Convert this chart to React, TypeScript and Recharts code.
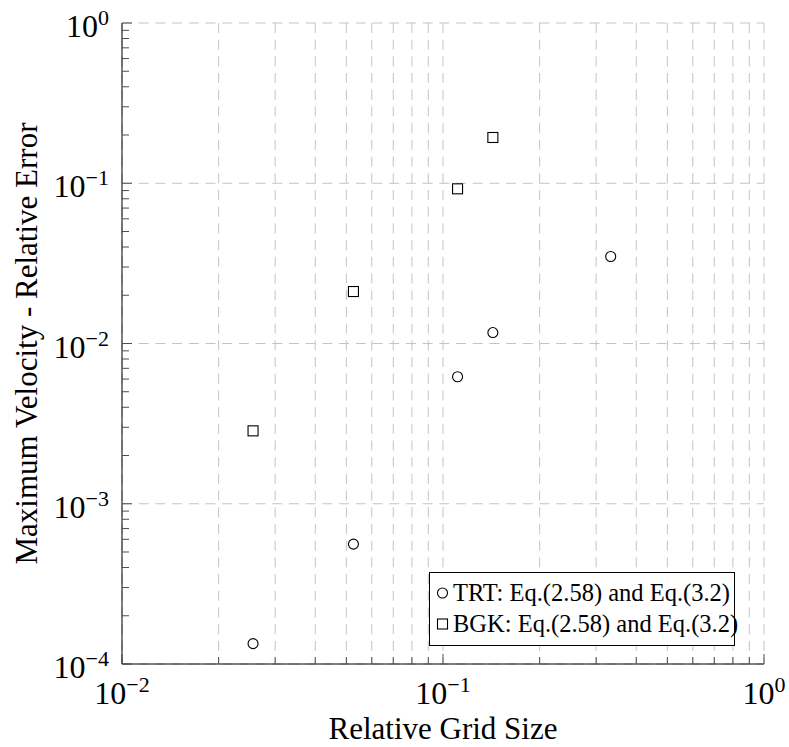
import React from 'react';
import { ScatterChart, Scatter, XAxis, YAxis, CartesianGrid, Legend } from 'recharts';

// ---- data ----
const trtGridSize = [0.0256, 0.0526, 0.111, 0.143, 0.333];
const trtError = [1.34e-4, 5.6e-4, 6.2e-3, 1.17e-2, 3.49e-2];
const bgkGridSize = [0.0256, 0.0526, 0.111, 0.143];
const bgkError = [2.85e-3, 2.11e-2, 9.23e-2, 1.93e-1];

const seriesNames = ['TRT: Eq.(2.58) and Eq.(3.2)', 'BGK: Eq.(2.58) and Eq.(3.2)'];

// ---- ticks ----
const xMajorTicks = [0.01, 0.1, 1];
const xMajorExponents = ['\u22122', '\u22121', '0'];
const xMinorTicks = [0.02, 0.03, 0.04, 0.05, 0.06, 0.07, 0.08, 0.09, 0.2, 0.3, 0.4, 0.5, 0.6, 0.7, 0.8, 0.9];
const yMajorTicks = [1e-4, 1e-3, 1e-2, 1e-1, 1];
const yMajorExponents = ['\u22124', '\u22123', '\u22122', '\u22121', '0'];
const yMinorTicks = [
  2e-4, 3e-4, 4e-4, 5e-4, 6e-4, 7e-4, 8e-4, 9e-4,
  2e-3, 3e-3, 4e-3, 5e-3, 6e-3, 7e-3, 8e-3, 9e-3,
  2e-2, 3e-2, 4e-2, 5e-2, 6e-2, 7e-2, 8e-2, 9e-2,
  0.2, 0.3, 0.4, 0.5, 0.6, 0.7, 0.8, 0.9,
];

const xAxisLabel = 'Relative Grid Size';
const yAxisLabel = 'Maximum Velocity - Relative Error';

const xAllTicks = [...xMajorTicks, ...xMinorTicks];
const yAllTicks = [...yMajorTicks, ...yMinorTicks];

const trtData = trtGridSize.map((x, i) => ({ x, y: trtError[i] }));
const bgkData = bgkGridSize.map((x, i) => ({ x, y: bgkError[i] }));

const FONT = "'Liberation Serif', 'Times New Roman', Times, serif";
const TICK_COLOR = '#4d4d4d';
const GRID_COLOR = '#c4c4c4';
const textStyle = { fontFamily: FONT };

type Side = 'bottom' | 'top' | 'left' | 'right';

function makeTick(side: Side, majors: number[], exps: string[], showLabel: boolean) {
  return (props: any) => {
    const { x, y, payload } = props;
    const v = payload.value;
    const idx = majors.indexOf(v);
    const major = idx >= 0;
    const len = major ? 10 : 7;
    let line;
    if (side === 'bottom') line = <line x1={x} y1={y} x2={x} y2={y - len} stroke={TICK_COLOR} strokeWidth={1} />;
    else if (side === 'top') line = <line x1={x} y1={y} x2={x} y2={y + len} stroke={TICK_COLOR} strokeWidth={1} />;
    else if (side === 'left') line = <line x1={x} y1={y} x2={x + len} y2={y} stroke={TICK_COLOR} strokeWidth={1} />;
    else line = <line x1={x} y1={y} x2={x - len} y2={y} stroke={TICK_COLOR} strokeWidth={1} />;
    let label = null;
    if (showLabel && major) {
      if (side === 'bottom') {
        label = (
          <text x={x} y={y + 39.5} textAnchor="middle" fontFamily={FONT} style={textStyle} fontSize={32} fill="#000">
            <tspan>10</tspan>
            <tspan dy={-12} fontSize={22}>{exps[idx]}</tspan>
          </text>
        );
      } else if (side === 'left') {
        label = (
          <text x={x - 13} y={y + 14} textAnchor="end" fontFamily={FONT} style={textStyle} fontSize={32} fill="#000">
            <tspan>10</tspan>
            <tspan dy={-12} fontSize={22}>{exps[idx]}</tspan>
          </text>
        );
      }
    }
    return (
      <g>
        {line}
        {label}
      </g>
    );
  };
}

const CircleMark = (p: any) => (
  <circle cx={p.cx} cy={p.cy} r={5} fill="none" stroke="#000" strokeWidth={1.1} />
);
const SquareMark = (p: any) => (
  <rect x={p.cx - 5} y={p.cy - 5} width={10} height={10} fill="none" stroke="#000" strokeWidth={1.1} />
);

const renderLegend = (props: any) => {
  const payload = [...(props.payload || [])].sort(
    (a: any, b: any) => seriesNames.indexOf(a.value) - seriesNames.indexOf(b.value)
  );
  return (
    <svg width={306} height={74} style={{ display: 'block', overflow: 'visible' }}>
      <rect x={0.5} y={0.5} width={305} height={73} fill="#fff" stroke="#000" strokeWidth={1} />
      {payload.map((entry: any, i: number) => {
        const cy = 21 + i * 31;
        const mark =
          entry.type === 'square' ? (
            <rect x={13.5 - 5} y={cy - 5} width={10} height={10} fill="none" stroke="#000" strokeWidth={1.1} />
          ) : (
            <circle cx={13.5} cy={cy} r={5} fill="none" stroke="#000" strokeWidth={1.1} />
          );
        return (
          <g key={i}>
            {mark}
            <text x={24} y={cy + 7.5} fontFamily={FONT} style={textStyle} fontSize={24.5} fill="#000">
              {entry.value}
            </text>
          </g>
        );
      })}
    </svg>
  );
};

const XLabel = (props: any) => {
  const vb = props.viewBox || {};
  return (
    <text x={vb.x + vb.width / 2} y={vb.y + 75} textAnchor="middle" fontFamily={FONT} style={textStyle} fontSize={31} fill="#000">
      {xAxisLabel}
    </text>
  );
};

const YLabel = (props: any) => {
  const vb = props.viewBox || {};
  const cx = vb.x + 37;
  const cy = vb.y + vb.height / 2;
  return (
    <text
      x={cx}
      y={cy}
      textAnchor="middle"
      transform={`rotate(-90, ${cx}, ${cy})`}
      fontFamily={FONT}
      style={textStyle}
      fontSize={31}
      fill="#000"
    >
      {yAxisLabel}
    </text>
  );
};

export default function App() {
  return (
    <div style={{ position: 'absolute', left: 0, top: 0, width: 789, height: 747, background: '#fff' }}>
      <ScatterChart width={789} height={747} margin={{ top: 23, right: 25, bottom: 0, left: 0 }}>
        <CartesianGrid
          stroke={GRID_COLOR}
          strokeDasharray="10 6.7"
          horizontalValues={yMajorTicks}
          verticalValues={xAllTicks}
          syncWithTicks={false}
        />
        <XAxis
          type="number"
          dataKey="x"
          scale="log"
          domain={[0.01, 1]}
          allowDataOverflow
          ticks={xAllTicks}
          interval={0}
          tickSize={0}
          tickMargin={0}
          tickLine={false}
          axisLine={{ stroke: '#000', strokeWidth: 1 }}
          height={83}
          tick={makeTick('bottom', xMajorTicks, xMajorExponents, true)}
          label={XLabel}
        />
        <XAxis
          xAxisId="top"
          orientation="top"
          type="number"
          scale="log"
          domain={[0.01, 1]}
          allowDataOverflow
          ticks={xAllTicks}
          interval={0}
          tickSize={0}
          tickMargin={0}
          tickLine={false}
          axisLine={{ stroke: '#000', strokeWidth: 1 }}
          height={0}
          tick={makeTick('top', xMajorTicks, xMajorExponents, false)}
        />
        <YAxis
          type="number"
          dataKey="y"
          scale="log"
          domain={[1e-4, 1]}
          allowDataOverflow
          ticks={yAllTicks}
          interval={0}
          tickSize={0}
          tickMargin={0}
          tickLine={false}
          axisLine={{ stroke: '#000', strokeWidth: 1 }}
          width={122}
          tick={makeTick('left', yMajorTicks, yMajorExponents, true)}
          label={YLabel}
        />
        <YAxis
          yAxisId="right"
          orientation="right"
          type="number"
          scale="log"
          domain={[1e-4, 1]}
          allowDataOverflow
          ticks={yAllTicks}
          interval={0}
          tickSize={0}
          tickMargin={0}
          tickLine={false}
          axisLine={{ stroke: '#000', strokeWidth: 1 }}
          width={0}
          tick={makeTick('right', yMajorTicks, yMajorExponents, false)}
        />
        <Legend
          layout="vertical"
          align="center"
          verticalAlign="middle"
          content={renderLegend}
          wrapperStyle={{ left: 429, top: 572, width: 306, height: 74 }}
        />
        <Scatter
          name={seriesNames[0]}
          data={trtData}
          legendType="circle"
          shape={CircleMark}
          isAnimationActive={false}
        />
        <Scatter
          name={seriesNames[1]}
          data={bgkData}
          legendType="square"
          shape={SquareMark}
          isAnimationActive={false}
        />
      </ScatterChart>
    </div>
  );
}
